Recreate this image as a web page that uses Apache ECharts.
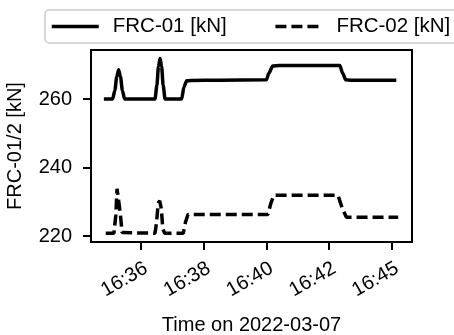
<!DOCTYPE html>
<html>
<head>
<meta charset="utf-8">
<script src="https://cdn.jsdelivr.net/npm/echarts@6/dist/echarts.min.js"></script>
<style>
  html, body { margin: 0; padding: 0; background: #fff; }
  #chart { width: 454px; height: 335px; }
</style>
</head>
<body>
<div id="chart"></div>
<script>
// x = minutes after 16:00 on 2022-03-07
const frc01 = [
  [34.82, 260.0], [35.1, 260.0], [35.17, 262.5], [35.23, 266.5], [35.29, 268.5],
  [35.35, 266.5], [35.41, 262.5], [35.48, 260.0], [36.45, 260.0], [36.51, 264.0],
  [36.56, 269.5], [36.61, 271.8], [36.66, 269.5], [36.71, 264.0], [36.77, 260.0],
  [37.3, 260.0], [37.37, 263.5], [37.46, 265.3], [37.6, 265.4], [38.5, 265.5],
  [40.0, 265.6], [40.08, 267.6], [40.2, 269.6], [40.4, 269.8], [42.34, 269.8],
  [42.43, 267.5], [42.53, 265.6], [42.7, 265.5], [44.14, 265.5]
];
const frc02 = [
  [34.88, 220.8], [35.14, 220.8], [35.2, 226.0], [35.24, 233.8], [35.28, 231.0],
  [35.31, 229.0], [35.35, 226.0], [35.4, 221.0], [35.44, 220.8], [36.45, 220.8],
  [36.5, 224.0], [36.55, 229.5], [36.6, 230.3], [36.65, 228.0], [36.7, 222.0],
  [36.76, 220.8], [37.35, 220.8], [37.42, 224.0], [37.5, 226.3], [40.05, 226.3],
  [40.14, 229.5], [40.24, 231.9], [42.28, 231.9], [42.42, 228.0], [42.55, 225.5],
  [44.2, 225.5]
];
const xTickValues = [36, 38, 40, 42, 44];
const xTickLabels = ['16:36', '16:38', '16:40', '16:42', '16:45'];
const yTickValues = [220, 240, 260];

const font = 'Liberation Sans';
const dash = [11, 5];
const chart = echarts.init(document.getElementById('chart'), null, { renderer: 'canvas' });

chart.setOption({
  animation: false,
  textStyle: { fontFamily: font, color: '#000' },
  legend: {
    orient: 'horizontal',
    left: 45,
    top: 10,
    width: 520,
    padding: [6, 40, 6, 5],
    itemWidth: 47,
    itemHeight: 14,
    itemGap: 47,
    borderColor: '#cccccc',
    borderWidth: 1.5,
    borderRadius: 4,
    itemStyle: { opacity: 0 },
    textStyle: { fontFamily: font, fontSize: 20.5, color: '#000', padding: [0, 0, 0, 9] },
    data: [
      { name: 'FRC-01 [kN]', lineStyle: { width: 3.5 } },
      { name: 'FRC-02 [kN]', lineStyle: { width: 3.5, type: dash } }
    ]
  },
  grid: {
    left: 91, right: 42, top: 50, bottom: 93,
    outerBoundsMode: 'none',
    containLabel: false,
    show: true, borderColor: '#000', borderWidth: 2
  },
  xAxis: {
    type: 'value',
    min: 34.41,
    max: 44.64,
    name: 'Time on 2022-03-07',
    nameLocation: 'middle',
    nameGap: 73,
    nameTextStyle: { fontFamily: font, fontSize: 20, color: '#000' },
    axisLine: { show: false },
    splitLine: { show: false },
    axisTick: { customValues: xTickValues, length: 8, lineStyle: { color: '#000', width: 2 } },
    axisLabel: {
      customValues: xTickValues,
      rotate: 30,
      margin: 28,
      padding: [0, -6, 0, 0],
      fontFamily: font, fontSize: 20, color: '#000',
      formatter: v => xTickLabels[xTickValues.indexOf(v)]
    }
  },
  yAxis: {
    type: 'value',
    min: 218.25,
    max: 274.3,
    name: 'FRC-01/2 [kN]',
    nameLocation: 'middle',
    nameRotate: 90,
    nameGap: 66,
    nameTextStyle: { fontFamily: font, fontSize: 20, color: '#000' },
    axisLine: { show: false },
    splitLine: { show: false },
    axisTick: { customValues: yTickValues, length: 8, lineStyle: { color: '#000', width: 2 } },
    axisLabel: {
      customValues: yTickValues,
      margin: 19,
      fontFamily: font, fontSize: 20, color: '#000'
    }
  },
  series: [
    {
      name: 'FRC-01 [kN]',
      type: 'line',
      data: frc01,
      symbol: 'none',
      color: '#000',
      smooth: 0.25,
      smoothMonotone: 'x',
      lineStyle: { color: '#000', width: 3.5, join: 'round' }
    },
    {
      name: 'FRC-02 [kN]',
      type: 'line',
      data: frc02,
      symbol: 'none',
      color: '#000',
      lineStyle: { color: '#000', width: 3.5, type: dash }
    }
  ]
});
</script>
</body>
</html>
